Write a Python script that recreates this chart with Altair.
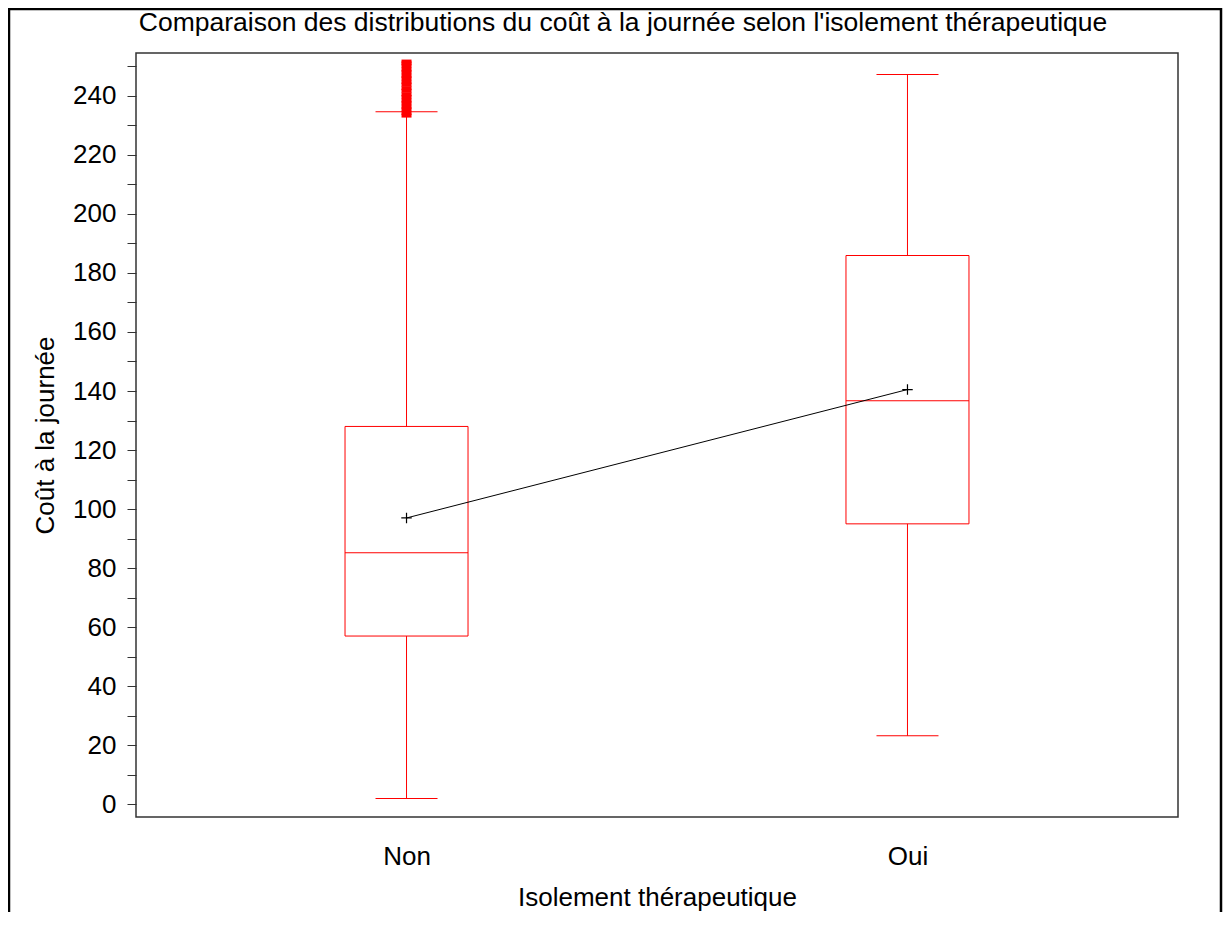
import altair as alt
import pandas as pd

# ---- data ----
groups = ["Non", "Oui"]
lower_whisker = [2.0, 23.2]
q1 = [57.0, 95.0]
median = [85.2, 136.7]
q3 = [128.0, 185.9]
upper_whisker = [234.6, 247.2]
means = [97.0, 140.5]
outliers_non = [233.3, 234.2, 235.4, 236.3, 237.5, 238.4, 239.6, 240.5, 241.7,
                242.6, 243.8, 244.7, 245.9, 246.8, 248.0, 248.9, 250.1, 251.0, 251.6]

TITLE = "Comparaison des distributions du coût à la journée selon l'isolement thérapeutique"
FONT = "Liberation Sans"
RED = "#FF0000"

box_df = pd.DataFrame({
    "groupe": groups,
    "low": lower_whisker,
    "q1": q1,
    "med": median,
    "q3": q3,
    "high": upper_whisker,
    "moyenne": means,
})
out_df = pd.DataFrame({"groupe": ["Non"] * len(outliers_non), "val": outliers_non})

x_enc = alt.X(
    "groupe:N",
    scale=alt.Scale(type="point", padding=0.54, domain=groups),
    axis=alt.Axis(
        title="Isolement thérapeutique",
        labelAngle=0,
        ticks=False,
        tickSize=0,
        domain=False,
        grid=False,
        labelPadding=26,
        labelBaseline="top",
        labelFontSize=26,
        labelFont=FONT,
        labelColor="black",
        titleFontSize=26,
        titleFont=FONT,
        titleFontWeight="normal",
        titleColor="black",
        titleY=80,
        titleBaseline="middle",
    ),
)

y_scale = alt.Scale(domain=[-4.3, 254.5], nice=False, zero=False)
y_axis = alt.Axis(
    title="Coût à la journée",
    values=list(range(0, 260, 10)),
    labelExpr="datum.value % 20 === 0 ? datum.label : ''",
    tickSize=9,
    tickColor="#333333",
    tickWidth=1,
    labelPadding=11,
    labelFontSize=26,
    labelFont=FONT,
    labelColor="black",
    domain=False,
    grid=False,
    titleFontSize=26,
    titleFont=FONT,
    titleFontWeight="normal",
    titleColor="black",
    titleX=-91,
    titleY=382,
    titleAngle=270,
    titleAlign="center",
    titleBaseline="middle",
)


def Y(field):
    return alt.Y(f"{field}:Q", scale=y_scale, axis=y_axis)


base = alt.Chart(box_df)

box = base.mark_bar(size=123, fill="white", fillOpacity=0, stroke=RED, strokeWidth=1).encode(
    x=x_enc, y=Y("q1"), y2="q3"
)
whisk_low = base.mark_rule(color=RED, strokeWidth=1).encode(x=x_enc, y=Y("low"), y2="q1")
whisk_high = base.mark_rule(color=RED, strokeWidth=1).encode(x=x_enc, y=Y("q3"), y2="high")
cap_low = base.mark_tick(color=RED, size=62, thickness=1, opacity=1).encode(x=x_enc, y=Y("low"))
cap_high = base.mark_tick(color=RED, size=62, thickness=1, opacity=1).encode(x=x_enc, y=Y("high"))
med = base.mark_tick(color=RED, size=123, thickness=1, opacity=1).encode(x=x_enc, y=Y("med"))
outl = alt.Chart(out_df).mark_tick(color=RED, size=10, thickness=4, opacity=1).encode(
    x=x_enc, y=Y("val")
)
mean_line = base.mark_line(color="black", strokeWidth=1).encode(x=x_enc, y=Y("moyenne"))
mean_pts = base.mark_point(
    shape="M-1,0H1M0,-1V1", size=110, color="black", filled=False, strokeWidth=1.2, opacity=1
).encode(x=x_enc, y=Y("moyenne"))

frame = alt.Chart(alt.Data(values=[{"a": 1}])).mark_rect(
    fill="white", fillOpacity=0, stroke="black", strokeWidth=2.5
).encode(
    x=alt.value(-127), x2=alt.value(1085), y=alt.value(-44), y2=alt.value(900)
)

chart = alt.layer(
    frame, box, whisk_low, whisk_high, cap_low, cap_high, med, outl, mean_line, mean_pts
).properties(
    width=1042,
    height=764,
    background="white",
    autosize=alt.AutoSizeParams(type="none"),
    padding={"left": 128, "top": 45, "right": 45, "bottom": 95},
    title=alt.TitleParams(
        TITLE,
        fontSize=26.5,
        font=FONT,
        fontWeight="normal",
        color="black",
        anchor="middle",
        dx=-34,
        offset=-50,
        baseline="alphabetic",
    ),
).configure_view(
    stroke="#333333", strokeWidth=1.5
)

chart.save("out.html", embed_options={"renderer": "svg", "actions": False})
